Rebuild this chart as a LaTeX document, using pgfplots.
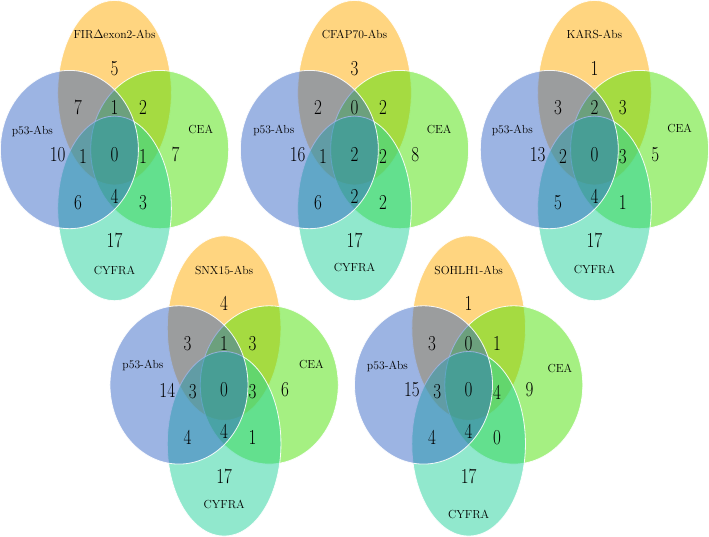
\documentclass[border=0pt]{standalone}
\usepackage{pgfplots}
\usepackage{pgfplotstable}
\usepackage{graphicx}
\pgfplotsset{compat=1.18}

\definecolor{vOr}{RGB}{255,171,1}
\definecolor{vBl}{RGB}{45,95,195}
\definecolor{vGr}{RGB}{75,225,5}
\definecolor{vCy}{RGB}{35,209,155}

% region counts: column a = FIRdexon2, b = CFAP70, c = KARS, d = SNX15, e = SOHLH1
\pgfplotstableread{
dx  y   a  b  c  d  e
0   68  5  3  1  4  1
-36 107 7  2  3  3  3
0   107 1  0  2  1  0
28  107 2  2  3  3  1
-56 153 10 16 13 14 15
-31 155 1  1  2  3  3
0   153 0  2  0  0  0
28  155 1  2  3  3  4
60  153 7  8  5  6  9
-36 200 6  6  5  4  4
0   194 4  2  4  4  4
28  200 3  2  1  1  0
0   238 17 17 17 17 17
}\counts

\tikzset{
  vo/.style={fill=vOr, fill opacity=0.5, draw=white, draw opacity=0.9, line width=0.8pt},
  vb/.style={fill=vBl, fill opacity=0.47, draw=white, draw opacity=0.9, line width=0.8pt},
  vg/.style={fill=vGr, fill opacity=0.5, draw=white, draw opacity=0.9, line width=0.8pt},
  vc/.style={fill=vCy, fill opacity=0.5, draw=white, draw opacity=0.9, line width=0.8pt},
  lab/.style={font=\fontsize{11.5}{13}\selectfont, anchor=center, inner sep=0pt},
}

\begin{document}
\begin{tikzpicture}
\begin{axis}[
  scale only axis, width=709pt, height=542pt,
  xmin=0, xmax=709, ymin=0, ymax=542, y dir=reverse,
  axis lines=none, clip=false,
  every node near coord/.style={anchor=center, inner sep=0pt, font=\fontsize{21}{21}\selectfont},
  nodes near coords={\scalebox{0.8}[1]{\pgfplotspointmeta}},
]
% ellipses: orange, green, cyan, blue
\draw[vo] (axis cs:118,92) ellipse [x radius=56, y radius=91];
\draw[vg] (axis cs:162.5,148) ellipse [x radius=68, y radius=78];
\draw[vc] (axis cs:118,206) ellipse [x radius=56, y radius=91];
\draw[vb] (axis cs:73.5,148) ellipse [x radius=68, y radius=78];

\draw[vo] (axis cs:354.5,92) ellipse [x radius=56, y radius=91];
\draw[vg] (axis cs:399,148) ellipse [x radius=68, y radius=78];
\draw[vc] (axis cs:354.5,206) ellipse [x radius=56, y radius=91];
\draw[vb] (axis cs:310,148) ellipse [x radius=68, y radius=78];

\draw[vo] (axis cs:591,92) ellipse [x radius=56, y radius=91];
\draw[vg] (axis cs:635.5,148) ellipse [x radius=68, y radius=78];
\draw[vc] (axis cs:591,206) ellipse [x radius=56, y radius=91];
\draw[vb] (axis cs:546.5,148) ellipse [x radius=68, y radius=78];

\draw[vo] (axis cs:226,324) ellipse [x radius=56, y radius=91];
\draw[vg] (axis cs:270.5,380) ellipse [x radius=68, y radius=78];
\draw[vc] (axis cs:226,438) ellipse [x radius=56, y radius=91];
\draw[vb] (axis cs:181.5,380) ellipse [x radius=68, y radius=78];

\draw[vo] (axis cs:467,324) ellipse [x radius=56, y radius=91];
\draw[vg] (axis cs:511.5,380) ellipse [x radius=68, y radius=78];
\draw[vc] (axis cs:467,438) ellipse [x radius=56, y radius=91];
\draw[vb] (axis cs:422.5,380) ellipse [x radius=68, y radius=78];

% counts
\addplot[draw=none, mark=none, point meta=explicit symbolic] table[x expr=\thisrow{dx}+118, y=y, meta=a] {\counts};
\addplot[draw=none, mark=none, point meta=explicit symbolic] table[x expr=\thisrow{dx}+354.5, y=y, meta=b] {\counts};
\addplot[draw=none, mark=none, point meta=explicit symbolic] table[x expr=\thisrow{dx}+591, y=y, meta=c] {\counts};
\addplot[draw=none, mark=none, point meta=explicit symbolic] table[x expr=\thisrow{dx}+226, y expr=\thisrow{y}+232, meta=d] {\counts};
\addplot[draw=none, mark=none, point meta=explicit symbolic] table[x expr=\thisrow{dx}+467, y expr=\thisrow{y}+232, meta=e] {\counts};

% set labels
\node[lab] at (axis cs:118,35) {FIR$\Delta$exon2-Abs};
\node[lab] at (axis cs:354.5,35) {CFAP70-Abs};
\node[lab] at (axis cs:591,35) {KARS-Abs};
\node[lab] at (axis cs:226,267) {SNX15-Abs};
\node[lab] at (axis cs:467,267) {SOHLH1-Abs};

\node[lab] at (axis cs:37,130) {p53-Abs};
\node[lab] at (axis cs:275,129) {p53-Abs};
\node[lab] at (axis cs:510,129) {p53-Abs};
\node[lab] at (axis cs:146,361) {p53-Abs};
\node[lab] at (axis cs:387,362) {p53-Abs};

\node[lab] at (axis cs:203,128) {CEA};
\node[lab] at (axis cs:438,128) {CEA};
\node[lab] at (axis cs:675,127) {CEA};
\node[lab] at (axis cs:312,360) {CEA};
\node[lab] at (axis cs:557,364) {CEA};

\node[lab] at (axis cs:118,267) {CYFRA};
\node[lab] at (axis cs:354.5,264) {CYFRA};
\node[lab] at (axis cs:591,266) {CYFRA};
\node[lab] at (axis cs:226,498) {CYFRA};
\node[lab] at (axis cs:467,508) {CYFRA};
\end{axis}
\end{tikzpicture}
\end{document}
